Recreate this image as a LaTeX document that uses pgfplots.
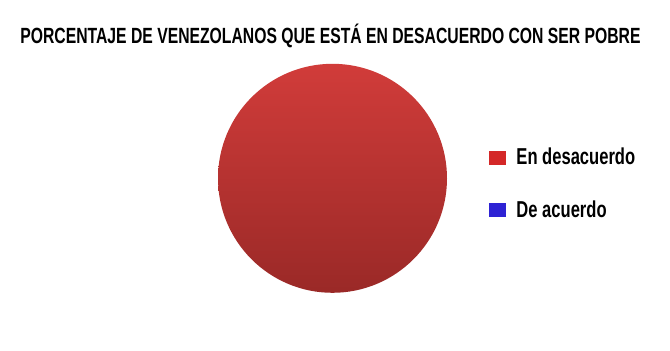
\documentclass[border=0pt]{standalone}
\usepackage{pgfplots}
\usepackage{pgfplotstable}
\pgfplotsset{compat=1.18}
\usepackage{fontspec}
\setmainfont{Liberation Sans}
\newfontfamily\condfont[FakeStretch=0.715]{Liberation Sans}
\newfontfamily\legfont[FakeStretch=0.72]{Liberation Sans}
\definecolor{pietop}{HTML}{D13C3A}
\definecolor{piebot}{HTML}{9A2927}
\definecolor{legred}{HTML}{D42828}
\definecolor{legblue}{HTML}{2E22D4}
\pgfdeclareverticalshading{pieshade}{100bp}{color(0bp)=(piebot); color(25bp)=(piebot); color(75bp)=(pietop); color(100bp)=(pietop)}
\pgfdeclareplotmark{pieslice}{\pgfpathcircle{\pgfpointorigin}{\pgfplotmarksize}\pgfshadepath{pieshade}{0}\pgfusepath{discard}}
% share of each answer (percent); pie centre and radius in picture units
\pgfplotstableread{
x y share
332.5 172.7 100
}\piedata
\begin{document}
\begin{tikzpicture}
\useasboundingbox (0,0) rectangle (670pt,351pt);
\begin{axis}[
  at={(0,0)}, anchor=south west,
  scale only axis, width=670pt, height=351pt,
  xmin=0, xmax=670, ymin=0, ymax=351,
  hide axis, clip=false,
  legend image code/.code={\fill[#1] (0pt,-6pt) rectangle (17pt,8pt);},
  legend cell align=left,
  legend style={
    at={(axis description cs:0.72985,0.5769)}, anchor=north west,
    draw=none, fill=none, inner sep=0pt, outer sep=0pt,
    row sep=32.7pt, column sep=10.5pt,
    font=\legfont\bfseries\fontsize{23}{23}\selectfont,
    nodes={inner sep=0pt, text height=16pt, text depth=4pt},
  },
]
\addplot[only marks, mark=pieslice, mark size=114.5pt, forget plot] table[x=x, y=y] {\piedata};
\addlegendimage{fill=legred, draw=none}
\addlegendentry{En desacuerdo}
\addlegendimage{fill=legblue, draw=none}
\addlegendentry{De acuerdo}
\node[font=\condfont\bfseries\fontsize{22}{22}\selectfont, anchor=base, inner sep=0pt] at (axis cs:330.5,307) {PORCENTAJE DE VENEZOLANOS QUE ESTÁ EN DESACUERDO CON SER POBRE};
\end{axis}
\end{tikzpicture}
\end{document}
